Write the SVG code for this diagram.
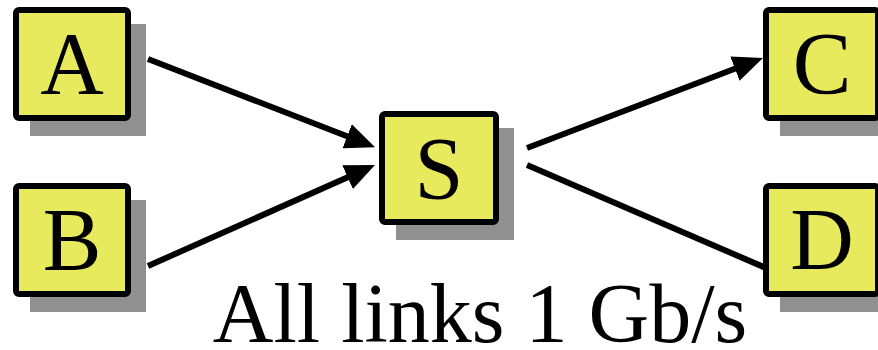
<svg xmlns="http://www.w3.org/2000/svg" width="878" height="350" viewBox="0 0 878 350">
<defs>
<style>
.shadow{fill:#909090}
.box{fill:#E8EA5E;stroke:#000;stroke-width:6}
.lbl{font-family:"Liberation Serif","Times New Roman",serif;font-size:88px;fill:#000;text-anchor:middle}
.link{stroke:#000;stroke-width:6;fill:none}
</style>
<marker id="ah" markerUnits="userSpaceOnUse" viewBox="0 0 30 26" markerWidth="30" markerHeight="26" refX="2" refY="13" orient="auto">
<path d="M0,0 L30,13 L0,26 z" fill="#000"/>
</marker>
</defs>
<rect width="878" height="350" fill="#fff"/>
<g id="connectors">
<line class="link" x1="148" y1="59" x2="349" y2="137" marker-end="url(#ah)"/>
<line class="link" x1="148" y1="266" x2="349.4" y2="176.4" marker-end="url(#ah)"/>
<line class="link" x1="527" y1="148" x2="736.8" y2="68" marker-end="url(#ah)"/>
<line class="link" x1="527" y1="165" x2="766" y2="268"/>
</g>
<g id="A">
<rect class="shadow" x="30" y="24" width="116" height="112"/>
<rect class="box" x="16" y="10" width="112" height="108" rx="3"/>
<text class="lbl" x="72" y="93">A</text>
</g>
<g id="B">
<rect class="shadow" x="30" y="200" width="116" height="112"/>
<rect class="box" x="16" y="186" width="112" height="108" rx="3"/>
<text class="lbl" x="72" y="269">B</text>
</g>
<g id="S">
<rect class="shadow" x="396" y="128" width="118" height="112"/>
<rect class="box" x="382" y="114" width="114" height="108" rx="3"/>
<text class="lbl" x="439" y="198">S</text>
</g>
<g id="C">
<rect class="shadow" x="780" y="24" width="116" height="112"/>
<rect class="box" x="766" y="10" width="112" height="108" rx="3"/>
<text class="lbl" x="822" y="93">C</text>
</g>
<g id="D">
<rect class="shadow" x="780" y="200" width="116" height="112"/>
<rect class="box" x="766" y="186" width="112" height="108" rx="3"/>
<text class="lbl" x="822" y="269">D</text>
</g>
<text x="480" y="342" font-family="'Liberation Serif','Times New Roman',serif" font-size="84" text-anchor="middle" fill="#000">All links 1 Gb/s</text>
</svg>
